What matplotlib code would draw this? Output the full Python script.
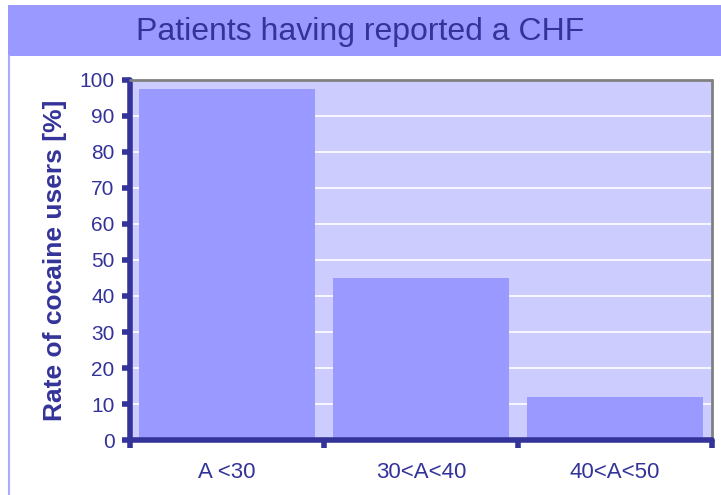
#!/usr/bin/env python3
import matplotlib
matplotlib.use("Agg")
import matplotlib.pyplot as plt
from matplotlib.patches import Rectangle
from matplotlib.lines import Line2D

categories = ["A <30", "30<A<40", "40<A<50"]
rates = [97.5, 45, 12]
y_ticks = [0, 10, 20, 30, 40, 50, 60, 70, 80, 90, 100]

NAVY = "#333399"
BAR_COLOR = "#9999FF"
PLOT_BG = "#CCCCFF"
BAND_COLOR = "#9999FF"

plt.rcParams["font.family"] = ["Liberation Sans", "DejaVu Sans"]

W, H = 721, 495
fig = plt.figure(figsize=(W / 100, H / 100), dpi=100)
fig.patch.set_facecolor("white")

# title band
fig.patches.append(Rectangle((8 / W, 1 - 56 / H), 1 - 8 / W, 51 / H,
                             transform=fig.transFigure, facecolor=BAND_COLOR,
                             edgecolor="none", zorder=0))
fig.lines.append(Line2D([8.5 / W, 8.5 / W], [0, 1 - 56 / H], transform=fig.transFigure,
                        color="#AAAAFF", linewidth=1.5))
fig.text(0.5, 1 - 32 / H, "Patients having reported a CHF", ha="center", va="center",
         fontsize=23, color=NAVY)

ax = fig.add_axes([130 / W, 1 - 440 / H, (712 - 130) / W, (440 - 80) / H])
ax.set_facecolor(PLOT_BG)

x = list(range(len(categories)))
ax.bar(x, rates, width=0.91, color=BAR_COLOR, zorder=2)

ax.set_xlim(-0.5, len(categories) - 0.5)
ax.set_ylim(0, 100)
ax.set_yticks(y_ticks)
ax.set_yticklabels([str(t) for t in y_ticks])
ax.yaxis.grid(True, color="white", linewidth=1.2, zorder=1)
ax.set_axisbelow(True)

# category boundaries carry the x ticks
ax.set_xticks([i - 0.5 for i in range(len(categories) + 1)])
ax.set_xticklabels([])
for i, c in enumerate(categories):
    ax.text(i, -0.06, c, transform=ax.get_xaxis_transform(), ha="center", va="top",
            fontsize=16, color=NAVY)

ax.tick_params(axis="y", colors=NAVY, labelsize=15, length=6, width=4, pad=5)
ax.tick_params(axis="x", colors=NAVY, length=6, width=4)
for t in ax.yaxis.get_ticklines() + ax.xaxis.get_ticklines():
    t.set_solid_capstyle("round")

ax.spines["left"].set_color(NAVY)
ax.spines["left"].set_linewidth(4)
ax.spines["bottom"].set_color(NAVY)
ax.spines["bottom"].set_linewidth(4)
ax.spines["top"].set_color("#808080")
ax.spines["top"].set_linewidth(2)
ax.spines["right"].set_color("#808080")
ax.spines["right"].set_linewidth(2)
for s in ax.spines.values():
    s.set_capstyle("round")
    s.set_zorder(3)

ax.set_ylabel("Rate of cocaine users [%]", fontsize=19, fontweight="bold",
              color=NAVY, labelpad=9)

fig.savefig("out.png", dpi=100, facecolor="white")
